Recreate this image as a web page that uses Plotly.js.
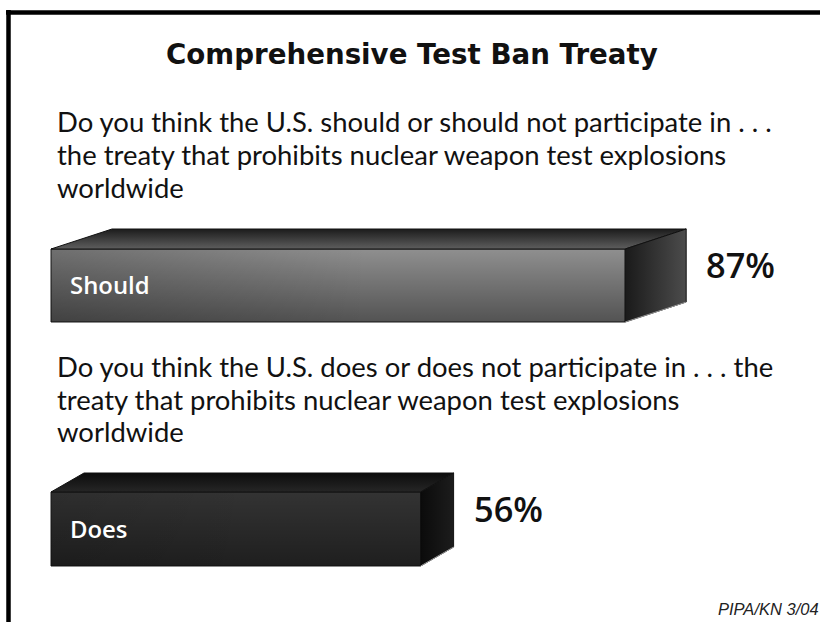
<!DOCTYPE html>
<html><head><meta charset="utf-8">
<script src="https://cdn.plot.ly/plotly-3.0.1.min.js"></script>
<style>html,body{margin:0;padding:0;background:#fff}#chart{width:820px;height:622px}</style>
</head><body><div id="chart"></div>
<script>
// ---- data ----
const chartTitle = 'Comprehensive Test Ban Treaty';
const categories = ['Should', 'Does'];
const values = [87, 56];
const valueLabels = values.map(v => v + '%');
const question1 = ['Do you think the U.S. should or should not participate in . . .',
                   'the treaty that prohibits nuclear weapon test explosions',
                   'worldwide'];
const question2 = ['Do you think the U.S. does or does not participate in . . . the',
                   'treaty that prohibits nuclear weapon test explosions',
                   'worldwide'];
const questions = [question1, question2];
const sourceNote = 'PIPA/KN 3/04';

// ---- layout / style (pixels) ----
const W = 820, H = 622, X0 = 51, K = 6.6;
const rows = [
  {top: 249, bottom: 322, depth: 61, rise: 20, qBase: [132, 165, 198],
   face: '#8f8f8f', shade: 0.42, leftShade: 0.22,
   topCols: ['#1c1c1c', '#5e5e5e'], sideCols: ['#1a1a1a', '#4c4c4c']},
  {top: 492, bottom: 566, depth: 33, rise: 19, qBase: [377, 410, 442],
   face: '#333333', shade: 0.40, leftShade: 0.10,
   topCols: ['#0c0c0c', '#262626'], sideCols: ['#0b0b0b', '#1c1c1c']}
];
const px = x => x / W, py = y => 1 - y / H;

// font size fitting so that text widths match the reference
const ctx = document.createElement('canvas').getContext('2d');
function fit(text, family, weight, style, target) {
  ctx.font = style + ' ' + weight + ' 40px ' + family;
  return 40 * target / ctx.measureText(text).width;
}
const TITLE_FONT = '"DejaVu Sans"', Q_FONT = 'Lato', LBL_FONT = '"Open Sans"';
const titleSize = fit(chartTitle, TITLE_FONT, 700, 'normal', 492);
const qSize = (fit(question2[0], Q_FONT, 400, 'normal', 700) + fit(question2[1], Q_FONT, 400, 'normal', 640)) / 2;
const valSize = (fit(valueLabels[0], LBL_FONT, 600, 'normal', 68) + fit(valueLabels[1], LBL_FONT, 600, 'normal', 70)) / 2;
const catSize = (fit(categories[0], LBL_FONT, 600, 'normal', 79) + fit(categories[1], LBL_FONT, 600, 'normal', 58)) / 2;

const traces = [];
traces.push({
  type: 'bar', orientation: 'h',
  x: values, y: rows.map(r => (r.top + r.bottom) / 2),
  width: rows.map(r => r.bottom - r.top), base: 0,
  marker: {color: rows.map(r => r.face), line: {color: '#1a1a1a', width: 1}},
  text: categories, textposition: 'none', hoverinfo: 'skip', showlegend: false
});

values.forEach((v, i) => {
  const r = rows[i], dx = r.depth / K, yt = r.top, yb = r.bottom, yr = r.top - r.rise;
  traces.push({type: 'scatter', mode: 'lines', x: [0, v, v, 0, 0], y: [yt, yt, yb, yb, yt],
    fill: 'toself', line: {width: 0},
    fillgradient: {type: 'vertical', start: yt, stop: yb,
      colorscale: [[0, 'rgba(0,0,0,0)'], [1, 'rgba(0,0,0,' + r.shade + ')']]},
    hoverinfo: 'skip', showlegend: false});
  traces.push({type: 'scatter', mode: 'lines', x: [0, v, v, 0, 0], y: [yt, yt, yb, yb, yt],
    fill: 'toself', line: {width: 0},
    fillgradient: {type: 'horizontal', start: 0, stop: v * 0.55,
      colorscale: [[0, 'rgba(0,0,0,' + r.leftShade + ')'], [1, 'rgba(0,0,0,0)']]},
    hoverinfo: 'skip', showlegend: false});
  traces.push({type: 'scatter', mode: 'lines',
    x: [0, dx, v + dx, v, 0], y: [yt, yr, yr, yt, yt],
    fill: 'toself', line: {color: '#111', width: 1},
    fillgradient: {type: 'vertical', start: yr, stop: yt,
      colorscale: [[0, r.topCols[0]], [1, r.topCols[1]]]},
    hoverinfo: 'skip', showlegend: false});
  traces.push({type: 'scatter', mode: 'lines',
    x: [v, v + dx, v + dx, v, v], y: [yt, yr, yb - r.rise, yb, yt],
    fill: 'toself', line: {color: '#111', width: 1},
    fillgradient: {type: 'horizontal', start: v, stop: v + dx,
      colorscale: [[0, r.sideCols[0]], [1, r.sideCols[1]]]},
    hoverinfo: 'skip', showlegend: false});
  traces.push({type: 'scatter', mode: 'lines', x: [v, v + dx], y: [yb, yb - r.rise],
    line: {color: '#9a9a9a', width: 1}, hoverinfo: 'skip', showlegend: false});
});

const annotations = [];
annotations.push({text: chartTitle, xref: 'paper', yref: 'paper',
  x: px(412), y: py(64.5 - 0.346 * titleSize), xanchor: 'center', yanchor: 'middle',
  showarrow: false, borderpad: 0,
  font: {family: 'DejaVu Sans, sans-serif', size: titleSize, weight: 700, color: '#111'}});
questions.forEach((lines, i) => {
  lines.forEach((t, j) => {
    annotations.push({text: t, xref: 'paper', yref: 'paper',
      x: px(56), y: py(rows[i].qBase[j] - 0.387 * qSize), xanchor: 'left', yanchor: 'middle',
      showarrow: false, borderpad: 0,
      font: {family: 'Lato, sans-serif', size: qSize, color: '#111'}});
  });
});
values.forEach((v, i) => {
  const r = rows[i], c = (r.top + r.bottom) / 2;
  annotations.push({text: categories[i], xref: 'x', yref: 'y', x: 0, y: c - 1,
    xshift: 18, xanchor: 'left', yanchor: 'middle', showarrow: false, borderpad: 0,
    font: {family: 'Open Sans, sans-serif', size: catSize, weight: 600, color: '#fff'}});
  annotations.push({text: valueLabels[i], xref: 'x', yref: 'y', x: v + r.depth / K, y: c - 21,
    xshift: 19, xanchor: 'left', yanchor: 'middle', showarrow: false, borderpad: 0,
    font: {family: 'Open Sans, sans-serif', size: valSize, weight: 600, color: '#111'}});
});
annotations.push({text: sourceNote, xref: 'paper', yref: 'paper',
  x: px(820), y: py(609), xanchor: 'right', yanchor: 'middle', showarrow: false, borderpad: 0,
  font: {family: 'Liberation Sans, Arial, sans-serif', size: 16.5, style: 'italic', color: '#222'}});

const layout = {
  width: W, height: H, margin: {l: 0, r: 0, t: 0, b: 0},
  paper_bgcolor: '#fff', plot_bgcolor: '#fff',
  xaxis: {range: [-X0 / K, (W - X0) / K], visible: false, fixedrange: true},
  yaxis: {range: [H, 0], visible: false, fixedrange: true},
  barmode: 'overlay', showlegend: false,
  annotations: annotations,
  shapes: [
    {type: 'line', xref: 'paper', yref: 'paper', x0: px(8.5), x1: px(8.5), y0: 0, y1: py(10),
     line: {color: '#000', width: 4.5}},
    {type: 'line', xref: 'paper', yref: 'paper', x0: px(6), x1: 1, y0: py(12.5), y1: py(12.5),
     line: {color: '#000', width: 4.5}}
  ]
};
Plotly.newPlot('chart', traces, layout, {staticPlot: true, displayModeBar: false});
</script></body></html>
